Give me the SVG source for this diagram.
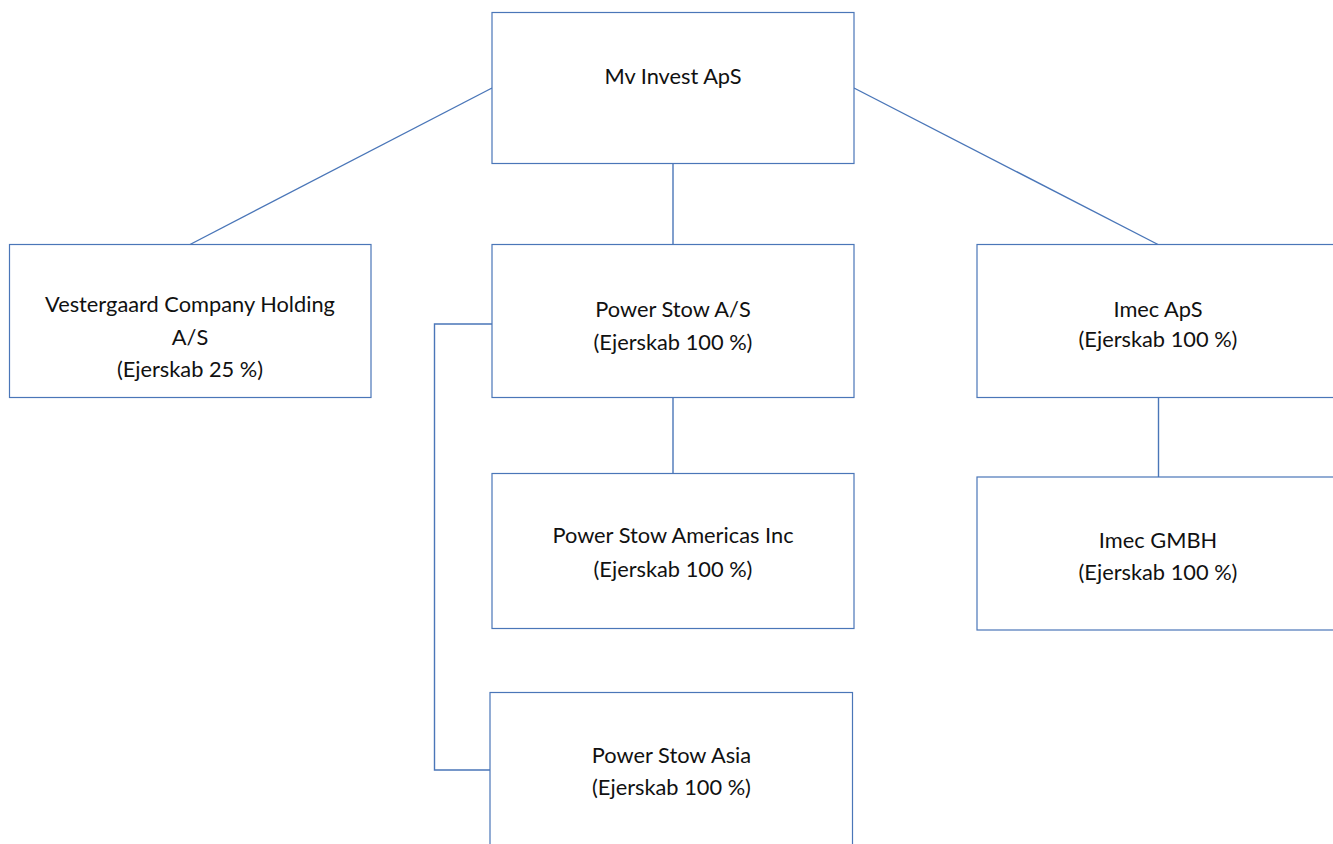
<svg xmlns="http://www.w3.org/2000/svg" width="1333" height="844" viewBox="0 0 1333 844">
<style>
.box{fill:#ffffff;stroke:#4a76b8;stroke-width:1.2}
.ln{fill:none;stroke:#4a76b8;stroke-width:1.4}
text{font-family:Lato,"Liberation Sans",sans-serif;font-size:21.8px;fill:#111111;text-anchor:middle}
</style>
<rect width="1333" height="844" fill="#ffffff"/>
<g id="connectors">
<line class="ln" x1="492" y1="88" x2="190" y2="244.5"/>
<line class="ln" x1="854" y1="88" x2="1158" y2="244.5"/>
<line class="ln" x1="673" y1="163.5" x2="673" y2="244.5"/>
<line class="ln" x1="673" y1="397.5" x2="673" y2="473.5"/>
<line class="ln" x1="1158.5" y1="397.5" x2="1158.5" y2="477"/>
<polyline class="ln" points="492,324 434.5,324 434.5,770 490,770"/>
</g>
<g id="mv-invest">
<rect class="box" x="492" y="12.5" width="362" height="151"/>
<text x="673" y="84">Mv Invest ApS</text>
</g>
<g id="vestergaard">
<rect class="box" x="9.5" y="244.5" width="361.5" height="153"/>
<text x="190" y="311.5">Vestergaard Company Holding</text>
<text x="190" y="344.5">A/S</text>
<text x="190" y="377">(Ejerskab 25 %)</text>
</g>
<g id="power-stow-as">
<rect class="box" x="492" y="244.5" width="362" height="153"/>
<text x="673" y="317">Power Stow A/S</text>
<text x="673" y="350">(Ejerskab 100 %)</text>
</g>
<g id="imec-aps">
<rect class="box" x="977" y="244.5" width="380" height="153"/>
<text x="1158" y="316.5">Imec ApS</text>
<text x="1158" y="347">(Ejerskab 100 %)</text>
</g>
<g id="power-stow-americas">
<rect class="box" x="492" y="473.5" width="362" height="155"/>
<text x="673" y="543">Power Stow Americas Inc</text>
<text x="673" y="577">(Ejerskab 100 %)</text>
</g>
<g id="imec-gmbh">
<rect class="box" x="977" y="477" width="380" height="153"/>
<text x="1158" y="548">Imec GMBH</text>
<text x="1158" y="580">(Ejerskab 100 %)</text>
</g>
<g id="power-stow-asia">
<rect class="box" x="490" y="692.5" width="362.5" height="170"/>
<text x="671.5" y="763">Power Stow Asia</text>
<text x="671.5" y="795">(Ejerskab 100 %)</text>
</g>
</svg>
